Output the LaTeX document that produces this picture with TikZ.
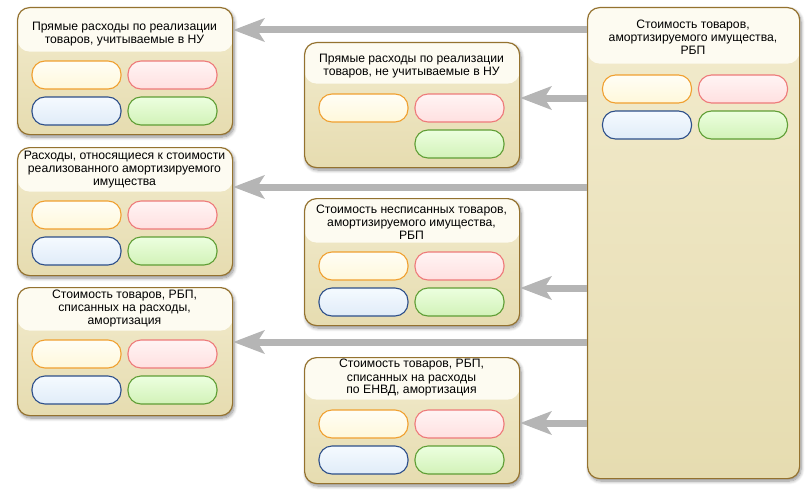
\documentclass[tikz,border=0pt]{standalone}
\usepackage{fontspec}
\setmainfont{Liberation Sans}
\usetikzlibrary{arrows.meta,shadows.blur}
\definecolor{boxedge}{HTML}{94722F}
\definecolor{headcol}{HTML}{FDFBF1}
\definecolor{bodytop}{HTML}{F2EBCD}
\definecolor{bodybot}{HTML}{E6DCB0}
\definecolor{arrgray}{HTML}{B5B5B5}
\definecolor{poE}{HTML}{F0A030}\definecolor{poT}{HTML}{FFFEF6}\definecolor{poB}{HTML}{FFF8DA}
\definecolor{ppE}{HTML}{EE7A7A}\definecolor{ppT}{HTML}{FFF4F4}\definecolor{ppB}{HTML}{FFE0E0}
\definecolor{pbE}{HTML}{2D4F8A}\definecolor{pbT}{HTML}{F5FAFF}\definecolor{pbB}{HTML}{E0ECF8}
\definecolor{pgE}{HTML}{5F9E35}\definecolor{pgT}{HTML}{ECFFDF}\definecolor{pgB}{HTML}{D2F2B8}
\tikzset{
  bigbox/.style={draw=boxedge, line width=1.2pt, rounded corners=12pt,
    top color=bodytop, bottom color=bodybot, anchor=north west, inner sep=0pt,
    blur shadow={shadow xshift=1.5pt, shadow yshift=-2.5pt, shadow blur radius=3.5pt, shadow opacity=45, shadow blur steps=8}},
  hdr/.style={path picture={\fill[headcol] (path picture bounding box.north west) rectangle ([yshift=-#1]path picture bounding box.north east);}},
  hdrtext/.style={align=center, inner sep=0pt, font=\fontsize{12.2}{13}\selectfont},
  pill/.style={rectangle, rounded corners=13pt, minimum width=89pt, minimum height=28pt, line width=1.1pt, inner sep=0pt},
  po/.style={pill, draw=poE, top color=poT, bottom color=poB},
  pp/.style={pill, draw=ppE, top color=ppT, bottom color=ppB},
  pb/.style={pill, draw=pbE, top color=pbT, bottom color=pbB},
  pg/.style={pill, draw=pgE, top color=pgT, bottom color=pgB},
  arr/.style={draw=arrgray, line width=7pt, -{Stealth[length=31pt, width=23pt, inset=7pt]}},
}
\newcommand\fourpills[4]{%
  \node[po] (#1o) at (#2+59.5,#3) {};
  \node[pp] (#1p) at (#2+155.5,#3) {};
  \node[pb] (#1b) at (#2+59.5,#4) {};
  \node[pg] (#1g) at (#2+155.5,#4) {};
}
\begin{document}
\begin{tikzpicture}[x=1pt,y=-1pt]
\useasboundingbox (0,0) rectangle (810,495);
% boxes
\node[bigbox, hdr=56pt, minimum width=212pt, minimum height=471pt] (R) at (587,7) {};
\node[bigbox, hdr=44pt, minimum width=215pt, minimum height=127pt] (L1) at (17,7) {};
\node[bigbox, hdr=44pt, minimum width=215pt, minimum height=128pt] (L2) at (17,147) {};
\node[bigbox, hdr=43pt, minimum width=215pt, minimum height=128pt] (L3) at (17,287) {};
\node[bigbox, hdr=41pt, minimum width=215pt, minimum height=125pt] (M1) at (304,42) {};
\node[bigbox, hdr=44pt, minimum width=215pt, minimum height=127pt] (M2) at (304,198) {};
\node[bigbox, hdr=42pt, minimum width=215pt, minimum height=126pt] (M3) at (304,357) {};
% header texts
\node[hdrtext] (Rt) at (693,37) {Стоимость товаров,\\амортизируемого имущества,\\РБП};
\node[hdrtext] (L1t) at (124.5,34) {Прямые расходы по реализации\\товаров, учитываемые в НУ};
\node[hdrtext] (L2t) at (124.5,170) {Расходы, относящиеся к стоимости\\реализованного амортизируемого\\имущества};
\node[hdrtext] (L3t) at (124.5,309) {Стоимость товаров, РБП,\\списанных на расходы,\\амортизация};
\node[hdrtext] (M1t) at (411.5,66) {Прямые расходы по реализации\\товаров, не учитываемые в НУ};
\node[hdrtext] (M2t) at (411.5,222) {Стоимость несписанных товаров,\\амортизируемого имущества,\\РБП};
\node[hdrtext] (M3t) at (411.5,378) {Стоимость товаров, РБП,\\списанных на расходы\\по ЕНВД, амортизация};
% pills
\fourpills{R}{587.5}{89}{125}
\fourpills{La}{17}{75}{111}
\fourpills{Lb}{17}{215}{251}
\fourpills{Lc}{17}{354}{390}
\fourpills{Mb}{304}{266}{302}
\fourpills{Mc}{304}{424}{460}
\node[po] (Mao) at (363.5,108) {};
\node[pp] (Map) at (459.5,108) {};
\node[pg] (Mag) at (459.5,144) {};
% arrows
\coordinate (y1) at (0,30);
\coordinate (y2) at (0,98);
\coordinate (y3) at (0,187);
\coordinate (y4) at (0,288);
\coordinate (y5) at (0,342);
\coordinate (y6) at (0,423);
\draw[arr] (R.west |- y1) -- (L1.east |- y1);
\draw[arr] (R.west |- y2) -- (M1.east |- y2);
\draw[arr] (R.west |- y3) -- (L2.east |- y3);
\draw[arr] (R.west |- y4) -- (M2.east |- y4);
\draw[arr] (R.west |- y5) -- (L3.east |- y5);
\draw[arr] (R.west |- y6) -- (M3.east |- y6);
\end{tikzpicture}
\end{document}
